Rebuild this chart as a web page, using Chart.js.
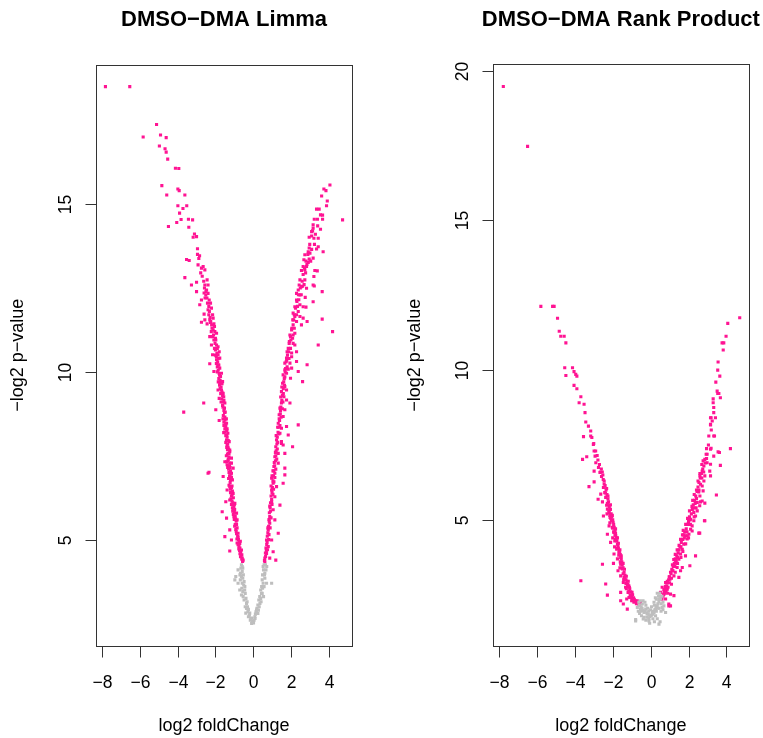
<!DOCTYPE html>
<html>
<head>
<meta charset="utf-8">
<script src="https://cdn.jsdelivr.net/npm/chart.js@4/dist/chart.umd.min.js"></script>
<style>
  html, body { margin: 0; padding: 0; background: #fff; }
  #wrap { position: relative; width: 763px; height: 738px; overflow: hidden; background: #fff; }
  canvas { position: absolute; top: 0; }
  #limma { left: 0; }
  #rank { left: 390px; }
</style>
</head>
<body>
<div id="wrap">
  <canvas id="limma" width="390" height="738"></canvas>
  <canvas id="rank" width="373" height="738"></canvas>
</div>
<script>
// Tick positions for both volcano plots
const xTicks = [-8, -6, -4, -2, 0, 2, 4];
const limmaYTicks = [5, 10, 15];
const rankYTicks = [5, 10, 15, 20];

// Limma: [log2 fold change, -log2 p-value], significant genes
const limmaSig = [
  [-7.83,18.5],[-6.54,18.5],[-5.83,17.0],[-5.12,17.37],[-4.91,17.06],[-4.61,16.98],[-4.97,16.73],[-4.67,16.65],
  [-4.61,16.55],[-4.53,16.34],[-4.12,16.07],[-3.94,16.06],[-4.84,15.55],[-3.99,15.45],[-3.92,15.4],[-4.58,15.27],
  [-3.62,15.27],[-3.99,14.95],[-3.52,14.95],[-3.72,14.87],[-3.9,14.73],[-3.43,14.55],[-3.21,14.53],[-3.82,14.54],
  [-4.05,14.45],[-4.49,14.33],[-3.41,14.31],[-3.11,14.11],[-3.18,14.01],[-3.0,14.03],[-2.95,13.67],[-2.95,13.5],
  [-2.84,13.46],[-2.88,13.38],[-3.53,13.35],[-3.39,13.32],[-2.92,13.19],[-2.65,13.14],[-2.56,13.04],[-2.74,13.09],
  [-3.62,12.81],[-3.27,12.59],[-3.0,12.67],[-2.44,12.74],[-2.39,12.59],[-2.56,12.59],[-3.0,12.39],[-2.47,12.44],
  [-2.39,12.34],[-2.51,12.29],[-2.74,12.14],[-2.33,12.14],[-2.26,12.05],[-2.83,12.0],[-2.39,11.85],[-2.21,11.9],
  [-2.6,11.72],[-2.15,11.7],[-2.12,11.6],[-2.3,11.55],[-2.56,11.55],[-2.74,11.48],[-2.44,11.43],[-2.08,11.43],
  [-2.26,11.47],[-2.12,11.25],[-2.03,11.2],[-1.94,11.15],[-2.3,11.05],[-1.98,10.95],[-1.94,10.8],[-1.86,10.75],
  [-2.21,10.8],[-1.8,10.6],[-1.86,10.51],[-2.15,10.51],[-1.77,10.41],[-1.94,10.36],[-2.3,10.24],[-1.86,10.21],
  [-1.77,10.11],[-2.08,10.01],[-1.68,9.96],[-1.73,9.86],[-1.62,9.71],[-1.77,9.68],[-1.86,9.46],[-1.68,9.46],
  [-1.59,9.36],[-1.8,9.21],[-1.56,9.26],[-1.5,9.07],[-1.52,8.92],[-2.62,9.07],[-1.98,8.87],[-3.68,8.8],
  [-1.52,8.79],[-1.8,8.55],[-1.49,8.57],[-1.41,8.47],[-1.45,8.37],[-1.56,8.19],[-1.34,8.17],[-1.41,7.97],
  [-1.27,7.92],[-1.38,7.82],[-1.24,7.67],[-1.31,7.57],[-1.15,7.43],[-1.41,7.32],[-1.24,7.28],[-1.06,7.13],
  [-1.33,7.75],[-1.24,7.62],[-1.5,7.32],[-1.38,7.23],[-1.15,7.28],[-2.34,7.01],[-2.39,6.98],[-1.59,6.88],
  [-1.15,6.98],[-1.1,6.78],[-1.24,6.58],[-1.38,6.48],[-1.06,6.38],[-1.24,6.18],[-1.45,6.13],[-0.97,6.08],
  [-1.06,5.89],[-1.64,5.83],[-0.88,5.79],[-1.41,5.64],[-0.85,5.59],[-1.24,5.29],[-1.5,5.09],[-0.8,5.19],
  [-1.15,4.99],[-0.71,4.89],[-1.24,4.66],[-0.62,4.69],[-0.67,4.49],[-0.53,4.39],
  [-0.58,4.45],[-0.6,4.55],[-0.66,4.62],[-0.7,4.75],[-0.75,4.8],[-0.68,4.95],[-0.78,5.0],[-0.85,4.9],
  [-0.82,5.1],[-0.9,5.25],[-0.85,5.35],[-0.95,5.45],[-0.9,5.55],[-1.0,5.6],[-0.95,5.7],[-1.05,5.75],
  [-0.98,5.9],[-1.1,5.95],[-1.0,6.05],[-1.12,6.15],[-1.05,6.25],[-1.15,6.3],[-1.1,6.45],[-1.2,6.5],
  [-1.12,6.6],[-1.22,6.7],[-1.15,6.85],[-1.25,6.9],[-1.2,7.05],[-1.3,7.1],[-1.25,7.2],[-1.33,7.35],
  [-1.28,7.45],[-1.36,7.55],[-1.3,7.7],[-1.4,7.75],[-1.35,7.85],[-1.38,8.05],[-1.45,8.1],[-1.4,8.25],
  [-1.5,8.3],[-1.46,8.45],[-1.55,8.5],[-1.5,8.65],[-1.58,8.7],[-1.55,8.85],[-1.62,9.0],[-1.6,9.1],
  [-1.66,9.2],[-1.62,9.3],[-1.72,9.35],[-1.7,9.55],[-1.78,9.6],[-1.75,9.75],[-1.82,9.8],[-1.8,9.95],
  [-1.85,10.05],[-1.9,10.15],[-1.88,10.3],[-1.95,10.45],[-1.92,10.55],[-2.0,10.65],[-2.02,10.85],[-2.08,10.95],
  [-2.1,11.1],[-2.18,11.3],[-2.2,11.4],[-2.28,11.62],[-2.32,11.8],[-2.35,11.95],[-2.45,12.2],[-2.5,12.4],
  [-2.58,12.5],[-2.62,12.7],[-2.7,12.85],[-2.78,12.95],
  [-0.56,4.35],[-0.6,4.42],[-0.64,4.5],[-0.7,4.58],[-0.72,4.68],[-0.76,4.72],[-0.8,4.85],[-0.74,4.92],
  [-0.86,5.02],[-0.8,5.08],[-0.88,5.18],[-0.92,5.3],[-0.98,5.4],[-0.88,5.45],[-0.93,5.62],[-1.02,5.68],
  [-1.0,5.82],[-1.08,5.85],[-1.02,5.98],[-1.15,6.05],[-1.08,6.1],[-1.18,6.22],[-1.12,6.35],[-1.2,6.4],
  [-1.15,6.55],[-1.28,6.62],[-1.2,6.78],[-1.3,6.82],[-1.18,6.95],[-1.28,7.0],[-1.35,7.15],[-1.22,7.15],
  [-1.32,7.4],[-1.42,7.5],[-1.28,7.55],[-1.36,7.68],[-1.45,7.9],[-1.32,7.95],[-1.4,8.12],[-1.5,8.2],
  [-1.38,8.3],[-1.55,8.4],[-1.42,8.6],[-1.6,8.6],[-1.48,8.8],[-1.6,8.95],[-1.55,9.15],[-1.7,9.1],
  [-1.65,9.4],[-1.75,9.5],[-1.65,9.65],[-1.85,9.7],[-1.78,9.9],[-1.9,10.0],[-1.82,10.2],[-1.95,10.25],
  [-1.85,10.4],[-2.0,10.5],[-1.9,10.7],[-2.05,10.7],[-2.0,11.0],[-2.15,11.05],[-2.05,11.35],[-2.22,11.2],
  [-2.25,11.5],[-2.35,11.7],[-2.42,12.05],[-2.55,12.2],[-2.6,12.35],
  [0.62,4.34],[0.71,4.59],[0.88,4.45],[1.2,4.39],[0.8,4.79],[1.06,4.64],[0.71,4.99],[0.98,4.99],
  [0.8,5.29],[1.33,5.19],[0.88,5.49],[1.15,5.59],[0.88,5.69],[1.06,5.89],[1.42,6.03],[0.98,6.13],
  [1.15,6.28],[0.98,6.48],[1.24,6.58],[1.06,6.68],[1.59,6.68],[0.98,6.83],[1.15,6.98],[1.68,6.93],
  [1.1,7.18],[1.33,7.28],[1.68,7.13],[1.15,7.47],[1.33,7.57],[1.68,7.57],[1.2,7.77],[1.5,7.87],
  [2.09,7.77],[1.24,7.97],[1.5,7.92],[1.59,7.82],[1.42,8.17],[1.86,8.12],[1.33,8.47],[1.5,8.32],
  [1.77,8.37],[2.39,8.42],[1.38,8.72],[1.59,8.67],[1.42,8.92],[1.68,8.87],[1.5,9.07],[1.95,9.07],
  [1.63,9.26],[1.77,9.16],[1.5,9.41],[1.77,9.46],[1.56,9.66],[1.68,9.56],[1.59,9.91],[1.77,9.96],
  [1.98,9.81],[2.39,10.01],[2.62,9.71],[1.68,10.06],[1.86,10.08],[2.04,10.11],[1.68,10.26],[1.95,10.26],
  [2.86,10.21],[1.77,10.41],[2.04,10.45],[2.3,10.31],[1.8,10.6],[2.04,10.56],[2.3,10.6],[1.91,10.85],
  [2.12,10.85],[2.21,10.8],[3.45,10.8],[2.09,11.0],[1.95,11.1],[2.21,11.15],[2.04,11.25],[4.21,11.2],
  [2.12,11.4],[2.56,11.4],[2.3,11.5],[2.86,11.5],[3.66,11.57],[2.65,11.6],[2.21,11.65],[2.48,11.65],
  [2.12,11.75],[2.39,11.8],[2.65,11.94],[2.8,11.93],[2.21,11.94],[2.48,12.0],[2.3,12.14],[3.18,12.09],
  [2.76,12.22],[2.48,12.29],[2.3,12.34],[3.66,12.39],[2.39,12.44],[2.83,12.49],[2.56,12.54],[3.18,12.59],
  [3.24,12.56],[2.44,12.59],[2.48,12.74],[2.74,12.74],[3.22,12.84],[2.56,13.02],[2.74,13.04],[3.27,13.02],
  [3.4,13.01],[2.65,13.14],[2.83,13.14],[2.92,13.26],[2.69,13.34],[2.97,13.36],[3.18,13.39],[2.74,13.49],
  [3.01,13.54],[2.92,13.58],[3.71,13.58],[3.36,13.66],[2.97,13.69],[3.45,13.73],[2.97,14.01],[3.22,13.98],
  [3.45,13.98],[3.1,14.18],[3.57,14.25],[3.18,14.28],[3.18,14.38],[4.74,14.53],[3.24,14.55],[3.41,14.55],
  [3.68,14.55],[3.57,14.68],[3.68,14.67],[3.36,14.85],[3.5,14.85],[3.89,14.95],[3.93,15.09],[3.63,15.24],
  [3.86,15.4],[3.75,15.45],[4.07,15.57],
  [0.62,4.45],[0.65,4.6],[0.68,4.75],[0.72,4.85],[0.75,5.1],[0.78,5.2],[0.82,5.4],[0.85,5.55],
  [0.86,5.8],[0.9,5.95],[0.92,6.1],[0.95,6.3],[1.0,6.4],[1.02,6.55],[1.05,6.75],[1.08,6.9],
  [1.1,7.05],[1.14,7.2],[1.18,7.35],[1.2,7.5],[1.22,7.65],[1.26,7.85],[1.28,8.05],[1.32,8.2],
  [1.35,8.35],[1.4,8.55],[1.44,8.75],[1.47,8.95],[1.52,9.15],[1.55,9.3],[1.6,9.5],[1.62,9.7],
  [1.68,9.85],[1.72,10.1],[1.75,10.3],[1.82,10.5],[1.86,10.7],[1.92,10.9],[1.98,11.05],[2.05,11.3],
  [2.1,11.55],[2.18,11.7],[2.25,11.9],[2.32,12.1],[2.4,12.3],[2.5,12.5],[2.6,12.7],[2.65,12.9],
  [2.72,13.1],[2.8,13.3],[2.9,13.5],[3.0,13.8],[3.1,14.05],[3.15,14.2],
  [0.6,4.38],[0.66,4.5],[0.7,4.68],[0.76,4.7],[0.74,4.92],[0.82,5.0],[0.84,5.15],[0.78,5.35],
  [0.9,5.35],[0.84,5.6],[0.95,5.65],[0.92,5.85],[0.88,6.0],[1.0,6.05],[0.98,6.2],[1.05,6.35],
  [0.95,6.6],[1.08,6.5],[1.1,6.72],[1.0,6.9],[1.15,6.85],[1.05,7.05],[1.2,7.1],[1.12,7.3],
  [1.25,7.4],[1.18,7.6],[1.28,7.7],[1.3,7.9],[1.22,8.1],[1.36,8.15],[1.3,8.35],[1.42,8.4],
  [1.38,8.6],[1.48,8.65],[1.45,8.85],[1.55,8.9],[1.58,9.1],[1.46,9.25],[1.6,9.35],[1.52,9.55],
  [1.66,9.6],[1.65,9.8],[1.7,10.0],[1.8,10.15],[1.78,10.35],[1.9,10.4],[1.88,10.6],[1.98,10.7],
  [2.0,10.95],[2.12,11.1],[2.18,11.3],[2.15,11.55],[2.3,11.7],[2.35,11.95],[2.42,12.15],[2.55,12.3],
  [2.62,12.55],[2.7,12.6],[2.78,12.95],[2.85,13.2],[3.05,13.3],[3.1,13.65],[3.25,13.8],[3.3,14.1],
  [3.42,14.35]
];

// Limma: genes below the significance cut
const limmaNs = [
  [-0.62,4.25],[-0.8,4.1],[-0.92,3.9],[-0.8,3.7],[-0.71,3.5],[-0.44,3.6],[-0.53,3.3],[-0.35,3.1],
  [-0.39,2.81],[-0.18,2.81],[0.0,2.56],[-0.09,2.66],[-0.97,3.8],[-0.67,4.0],
  [-0.55,4.15],[-0.58,4.05],[-0.52,3.95],[-0.55,3.85],[-0.48,3.75],[-0.5,3.65],[-0.45,3.5],[-0.42,3.4],
  [-0.38,3.25],[-0.32,3.15],[-0.3,3.0],[-0.25,2.92],[-0.2,2.75],[-0.12,2.65],[-0.05,2.55],[-0.62,3.9],
  [-0.68,3.8],[-0.6,3.55],[-0.48,3.2],[-0.28,2.85],
  [0.09,2.7],[0.18,2.9],[0.36,3.1],[0.44,3.4],[0.53,3.7],[0.71,3.7],[0.62,4.0],[0.53,4.2],[0.98,3.7],
  [0.05,2.6],[0.12,2.78],[0.2,2.95],[0.25,3.05],[0.3,3.2],[0.35,3.3],[0.4,3.5],[0.45,3.6],
  [0.48,3.8],[0.5,3.95],[0.55,4.1],[0.58,4.25],[0.62,3.85],[0.4,3.25],[0.68,4.1],[0.28,2.9],
  [-0.58,4.2],[-0.65,4.15],[-0.7,3.95],[-0.58,3.7],[-0.55,3.45],[-0.62,3.35],[-0.42,3.0],[-0.35,2.95],
  [-0.25,2.7],[-0.15,2.6],[-0.08,2.5],[0.02,2.52],[0.1,2.65],[0.15,2.85],[0.25,2.8],[0.32,3.0],
  [0.42,3.15],[0.48,3.4],[0.5,3.55],[0.58,3.6],[0.6,3.95],[0.65,4.25],[0.72,4.2],[0.55,3.3]
];

// Rank Product: significant genes
const rankSig = [
  [-7.77,19.47],[-6.49,17.47],[-5.79,12.13],[-5.17,12.13],[-5.09,12.13],[-4.91,11.73],[-4.82,11.3],[-4.74,11.13],
  [-4.56,11.13],[-4.47,10.91],[-4.53,10.08],[-4.12,10.08],[-4.04,9.95],[-4.47,9.82],[-3.95,9.86],[-3.89,9.8],
  [-4.04,9.49],[-3.89,9.38],[-3.68,9.11],[-3.77,8.91],[-3.51,8.86],[-3.46,8.58],[-3.42,8.27],[-3.28,8.13],
  [-3.16,7.97],[-3.54,7.78],[-3.16,7.8],[-3.02,7.52],[-2.98,7.3],[-2.93,7.13],[-3.59,7.02],[-3.37,7.11],
  [-2.89,6.91],[-2.98,6.63],[-2.67,6.58],[-2.59,6.45],[-2.98,6.27],[-3.25,6.11],[-2.49,6.08],[-2.42,5.91],
  [-2.63,5.86],[-2.37,5.75],[-2.77,5.69],[-2.54,5.6],[-2.32,5.49],[-2.28,5.36],[-2.19,5.25],[-2.49,5.13],
  [-2.14,5.08],[-2.07,4.97],[-2.19,4.8],[-2.02,4.75],[-1.93,4.58],[-2.28,4.52],[-1.84,4.47],[-1.89,4.3],
  [-2.11,4.25],[-1.75,4.19],[-1.79,4.02],[-1.67,3.91],[-1.93,3.86],[-1.58,3.75],[-2.54,3.52],[-1.96,3.55],
  [-1.58,3.52],[-1.49,3.36],[-1.72,3.3],[-1.58,3.13],[-1.4,3.08],[-1.44,2.91],[-2.37,2.86],[-3.68,2.97],
  [-1.32,2.75],[-1.19,2.58],[-1.58,2.58],[-2.28,2.49],[-1.14,2.41],[-1.58,2.3],[-0.96,2.36],[-0.88,2.25],
  [-1.26,2.36],[-0.7,2.3],[-1.23,2.02],[-0.61,2.16],[-0.53,2.25],[-1.44,2.19],
  [-0.75,2.2],[-0.82,2.3],[-0.9,2.4],[-0.95,2.5],[-1.0,2.45],[-1.05,2.6],[-1.1,2.7],[-1.15,2.8],
  [-1.2,2.85],[-1.25,2.95],[-1.3,3.0],[-1.35,3.15],[-1.4,3.25],[-1.45,3.4],[-1.5,3.5],[-1.52,3.6],
  [-1.55,3.7],[-1.6,3.85],[-1.65,3.95],[-1.7,4.05],[-1.72,4.15],[-1.78,4.3],[-1.8,4.4],[-1.85,4.55],
  [-1.88,4.65],[-1.92,4.75],[-1.95,4.85],[-2.0,5.0],[-2.05,5.1],[-2.08,5.2],[-2.12,5.35],[-2.18,5.45],
  [-2.22,5.6],[-2.25,5.7],[-2.3,5.85],[-2.35,6.0],[-2.4,6.15],[-2.45,6.3],[-2.52,6.5],[-2.6,6.7],
  [-2.7,6.85],[-2.78,7.0],[-1.0,2.3],[-1.28,2.7],[-1.42,3.0],[-1.62,3.4],[-1.75,3.7],[-1.9,4.1],
  [-2.0,4.4],[-2.15,4.9],[-2.3,5.2],
  [-0.68,2.22],[-0.78,2.28],[-0.86,2.35],[-0.92,2.3],[-1.02,2.4],[-1.08,2.5],[-0.98,2.58],[-1.15,2.62],
  [-1.12,2.75],[-1.22,2.78],[-1.3,2.88],[-1.18,2.95],[-1.35,3.05],[-1.28,3.12],[-1.45,3.2],[-1.38,3.35],
  [-1.5,3.38],[-1.45,3.55],[-1.6,3.6],[-1.55,3.8],[-1.68,3.82],[-1.62,4.0],[-1.75,4.05],[-1.7,4.22],
  [-1.85,4.35],[-1.75,4.4],[-1.88,4.5],[-1.95,4.6],[-1.85,4.7],[-2.0,4.72],[-1.98,4.92],[-2.1,5.05],
  [-2.02,5.15],[-2.15,5.15],[-2.2,5.3],[-2.12,5.5],[-2.28,5.55],[-2.25,5.8],[-2.38,5.9],[-2.32,6.05],
  [-2.45,6.2],[-2.5,6.35],[-2.55,6.6],[-2.65,6.6],[-2.75,6.75],[-2.82,7.15],[-2.9,7.3],[-3.0,7.55],
  [-3.1,7.75],
  [0.53,2.58],[0.61,2.75],[0.79,2.36],[0.96,2.13],[0.7,2.52],[0.88,2.69],[1.05,2.52],[1.23,2.47],
  [0.79,2.91],[1.02,3.02],[1.23,3.13],[1.49,3.08],[1.14,3.3],[1.4,3.41],[1.58,3.3],[1.67,3.41],
  [2.07,3.47],[1.32,3.58],[1.49,3.69],[1.58,3.86],[1.84,3.8],[2.37,3.8],[1.67,4.02],[1.75,4.19],
  [1.93,4.36],[1.84,4.47],[2.02,4.52],[2.11,4.69],[2.54,4.56],[2.19,4.8],[2.28,4.97],[2.11,5.02],
  [2.84,4.97],[2.37,5.13],[2.46,5.3],[2.28,5.25],[2.59,5.47],[2.46,5.58],[2.72,5.63],[2.6,5.8],
  [3.47,5.83],[2.77,5.97],[2.72,6.13],[2.81,6.3],[2.6,6.47],[2.86,6.47],[3.16,6.47],[2.72,6.63],
  [2.81,6.8],[2.98,6.91],[3.16,6.86],[3.68,6.82],[2.86,7.02],[2.98,7.19],[3.16,7.36],[2.95,7.38],
  [4.21,7.38],[3.56,7.27],[3.07,7.8],[3.33,7.8],[3.16,8.19],[3.42,8.41],[3.16,8.41],[3.33,8.58],
  [3.33,8.75],[3.3,8.91],[3.3,9.04],[3.68,9.08],[3.51,9.3],[3.54,9.22],[3.44,9.6],[4.7,11.75],
  [4.07,11.56],[3.98,11.13],[3.77,10.91],[3.86,10.91],[3.83,10.67],[3.56,10.27],[3.54,10.0],[3.65,9.8],
  [3.6,9.22],[3.12,6.63],[2.63,6.19],[2.54,5.93],[2.42,5.71],[2.63,5.6],[2.86,5.56],[2.86,4.97],
  [2.19,4.63],[2.59,4.56],[1.93,4.47],[3.33,7.13],[3.63,7.25],[2.77,6.97],[2.93,7.19],[3.19,7.39],
  [3.37,7.8],[3.19,8.41],[3.16,8.17],[0.96,2.19],[1.05,2.13],
  [0.6,2.35],[0.65,2.45],[0.72,2.6],[0.8,2.7],[0.85,2.8],[0.9,2.9],[0.95,3.0],[1.0,3.1],
  [1.08,3.2],[1.12,3.35],[1.2,3.45],[1.25,3.55],[1.3,3.7],[1.38,3.8],[1.45,3.9],[1.5,4.0],
  [1.55,4.1],[1.62,4.25],[1.7,4.35],[1.75,4.5],[1.8,4.6],[1.88,4.7],[1.95,4.85],[2.0,4.95],
  [2.05,5.1],[2.15,5.2],[2.2,5.35],[2.25,5.5],[2.32,5.65],[2.38,5.8],[2.45,5.95],[2.5,6.1],
  [2.55,6.25],[2.62,6.4],[2.68,6.55],[2.75,6.7],[0.9,2.55],[1.1,2.85],[1.3,3.25],[1.42,3.55],
  [1.6,3.75],[1.7,3.95],[1.85,4.2],[2.0,4.4],[2.1,4.85],[2.3,5.1],[2.4,5.4],
  [0.58,2.42],[0.68,2.5],[0.75,2.55],[0.7,2.68],[0.82,2.62],[0.78,2.78],[0.92,2.75],[0.88,2.95],
  [1.0,2.9],[0.98,3.1],[1.1,3.05],[1.05,3.25],[1.18,3.3],[1.15,3.5],[1.28,3.45],[1.22,3.68],
  [1.35,3.65],[1.3,3.85],[1.42,3.75],[1.4,4.0],[1.5,4.15],[1.6,4.1],[1.58,4.35],[1.68,4.5],
  [1.78,4.4],[1.72,4.65],[1.85,4.85],[1.92,4.6],[1.95,5.05],[2.08,5.0],[2.05,5.3],[2.18,5.45],
  [2.28,5.4],[2.22,5.65],[2.35,5.55],[2.3,5.85],[2.42,6.0],[2.55,6.0],[2.5,6.3],[2.6,6.55],
  [2.7,6.4],[2.7,6.85],[2.8,6.6],[2.88,6.9],[2.95,7.05],[3.05,7.5],[3.2,8.0],[3.25,8.3]
];

// Rank Product: genes below the significance cut
const rankNs = [
  [-0.7,2.08],[-0.53,2.02],[-0.35,1.91],[-0.79,1.67],[-0.18,1.86],[-0.09,1.69],[0.0,1.8],[0.18,1.91],
  [0.26,2.02],[0.35,2.13],[0.44,2.27],[0.53,2.36],[0.26,1.8],[0.44,1.52],[-0.09,1.63],[0.61,2.08],
  [0.79,1.91],[-0.26,2.02],[-0.44,2.19],[-0.79,1.63],[-0.39,1.69],[0.09,1.91],[0.7,2.13],
  [-0.6,2.15],[-0.5,2.1],[-0.45,2.05],[-0.4,1.98],[-0.3,1.95],[-0.2,1.9],[-0.12,1.85],[-0.05,1.78],
  [0.05,1.82],[0.1,1.85],[0.15,1.95],[0.22,2.0],[0.3,2.1],[0.38,2.2],[0.45,2.35],[0.5,2.45],
  [0.4,2.05],[0.2,2.15],[0.0,2.0],[-0.15,2.05],[-0.3,2.25],[-0.55,2.3],[0.3,2.35],[0.55,2.2],
  [0.65,2.0],[-0.2,1.75],[0.12,1.7],[0.35,2.55],[0.42,2.45],[0.25,2.4],
  [-0.65,1.95],[-0.58,1.88],[-0.48,1.8],[-0.35,1.75],[-0.25,1.65],[-0.5,1.95],[-0.62,2.25],[-0.4,2.3],
  [-0.25,2.15],[-0.1,1.95],[0.05,2.1],[0.18,2.25],[0.3,1.95],[0.45,2.05],[0.55,1.95],[0.65,2.25],
  [0.35,1.7],[0.5,1.6],[0.2,1.6],[-0.05,1.55],[0.6,2.45],[0.48,2.55]
];

const FONT = '"Liberation Sans", Arial, Helvetica, sans-serif';
const INK = '#000';
const LINE = '#333';

function fmtTick(v) {
  return v < 0 ? '\u2212' + Math.abs(v) : String(v);
}

// Draws the frame, ticks, labels and titles in base-graphics style
const baseFrame = {
  id: 'baseFrame',
  afterDraw(chart, args, opts) {
    const { ctx, chartArea: a } = chart;
    const xs = chart.scales.x, ys = chart.scales.y;
    ctx.save();
    ctx.strokeStyle = LINE;
    ctx.lineWidth = 1;
    const L = Math.round(a.left) + 0.5, T = Math.round(a.top) + 0.5;
    const R = Math.round(a.right) + 0.5, B = Math.round(a.bottom) + 0.5;
    ctx.strokeRect(L, T, R - L, B - T);

    ctx.fillStyle = INK;
    ctx.font = '17.5px ' + FONT;
    ctx.textAlign = 'center';
    ctx.textBaseline = 'alphabetic';
    opts.xTicks.forEach(v => {
      const px = Math.round(xs.getPixelForValue(v)) + 0.5;
      ctx.beginPath(); ctx.moveTo(px, B); ctx.lineTo(px, B + 11); ctx.stroke();
      ctx.fillText(fmtTick(v), px, B + 41);
    });
    opts.yTicks.forEach(v => {
      const py = Math.round(ys.getPixelForValue(v)) + 0.5;
      ctx.beginPath(); ctx.moveTo(L - 11, py); ctx.lineTo(L, py); ctx.stroke();
      ctx.save();
      ctx.translate(L - 26, py);
      ctx.rotate(-Math.PI / 2);
      ctx.fillText(fmtTick(v), 0, 0);
      ctx.restore();
    });

    const cx = (a.left + a.right) / 2, cy = (a.top + a.bottom) / 2;
    ctx.font = '18px ' + FONT;
    ctx.fillText(opts.xTitle, cx, 731);
    ctx.save();
    ctx.translate(L - 74, cy);
    ctx.rotate(-Math.PI / 2);
    ctx.fillText(opts.yTitle, 0, 0);
    ctx.restore();

    ctx.font = 'bold 22px ' + FONT;
    ctx.fillText(opts.title, cx, 26);
    ctx.restore();
  }
};

function toPoints(pairs) {
  return pairs.map(([x, y]) => ({ x, y }));
}

function volcano(id, sig, ns, xRange, yRange, yTicks, title, padding) {
  const pointStyle = { pointStyle: 'rect', pointRadius: 2.2, pointHoverRadius: 2.2, borderWidth: 0 };
  return new Chart(document.getElementById(id), {
    type: 'scatter',
    data: {
      datasets: [
        Object.assign({ data: toPoints(ns), backgroundColor: '#BEBEBE' }, pointStyle),
        Object.assign({ data: toPoints(sig), backgroundColor: '#FF1493' }, pointStyle)
      ]
    },
    options: {
      responsive: false,
      animation: false,
      devicePixelRatio: 1,
      events: [],
      layout: { padding },
      scales: {
        x: { type: 'linear', min: xRange[0], max: xRange[1], display: false },
        y: { type: 'linear', min: yRange[0], max: yRange[1], display: false }
      },
      plugins: {
        legend: { display: false },
        tooltip: { enabled: false },
        baseFrame: {
          xTicks, yTicks, title,
          xTitle: 'log2 foldChange',
          yTitle: '\u2212log2 p\u2212value'
        }
      }
    },
    plugins: [baseFrame]
  });
}

volcano('limma', limmaSig, limmaNs, [-8.33, 5.24], [1.83, 19.16], limmaYTicks,
  'DMSO\u2212DMA Limma', { left: 96, right: 38, top: 64.5, bottom: 92 });
volcano('rank', rankSig, rankNs, [-8.33, 5.19], [0.78, 20.21], rankYTicks,
  'DMSO\u2212DMA Rank Product', { left: 102.7, right: 14, top: 64.3, bottom: 91.7 });
</script>
</body>
</html>
